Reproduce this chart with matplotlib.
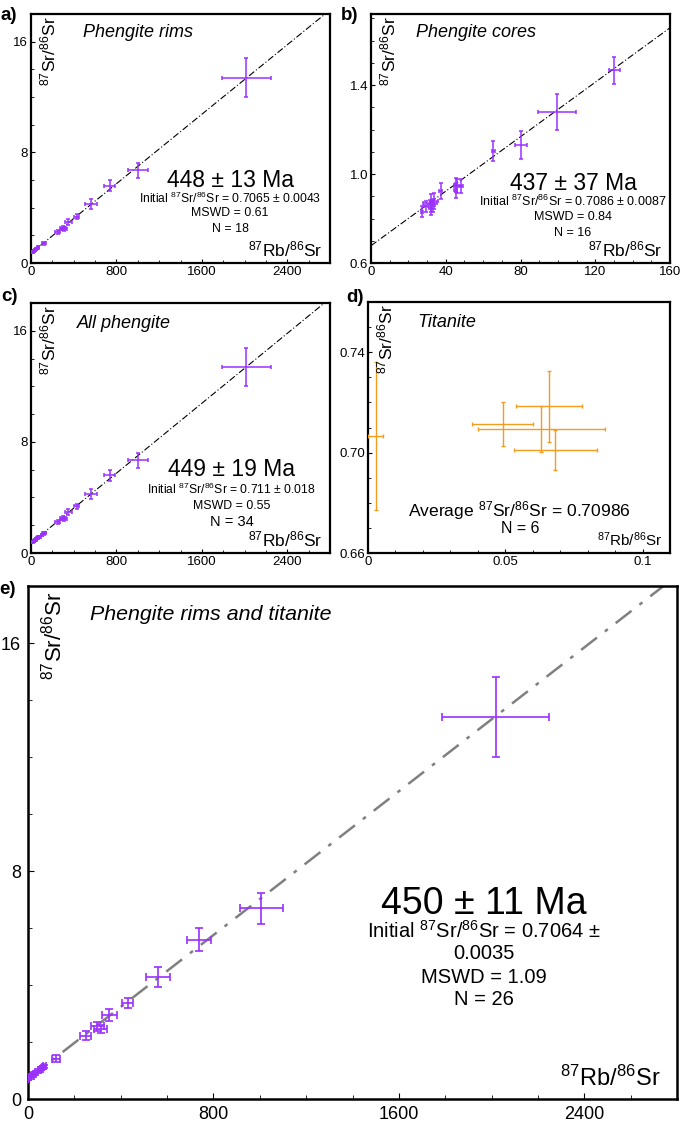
import numpy as np
import matplotlib
matplotlib.use('Agg')
import matplotlib.pyplot as plt
from matplotlib.ticker import MultipleLocator, FixedLocator

plt.rcParams['font.family'] = ['Liberation Sans', 'DejaVu Sans']
plt.rcParams['mathtext.fontset'] = 'custom'
plt.rcParams['mathtext.rm'] = 'Liberation Sans'
plt.rcParams['mathtext.default'] = 'regular'

PURPLE = '#9b30ff'
ORANGE = '#f39c1e'

# 87Rb/86Sr, 87Sr/86Sr, x error, y error
rims_x = [2017, 1006, 738, 562, 430, 351, 313, 298, 249, 121,
          8, 18, 28, 38, 48, 58, 65, 70]
rims_y = [13.39, 6.69, 5.59, 4.27, 3.36, 2.95, 2.45, 2.55, 2.22, 1.41,
          0.76, 0.82, 0.88, 0.95, 1.01, 1.07, 1.11, 1.15]
rims_xerr = [229, 93, 51, 52, 23, 33, 28, 28, 23, 19,
             6, 6, 6, 6, 6, 6, 6, 6]
rims_yerr = [1.40, 0.54, 0.40, 0.35, 0.17, 0.22, 0.15, 0.15, 0.15, 0.12,
             0.05, 0.05, 0.05, 0.05, 0.05, 0.05, 0.05, 0.05]

cores_x = [27.1, 31.4, 32.0, 32.0, 33.9, 33.0, 37.3, 45.3, 45.3, 46.2,
           48.0, 65.3, 80.3, 99.4, 130.2, 29.5]
cores_y = [0.831, 0.871, 0.870, 0.846, 0.879, 0.860, 0.924, 0.927, 0.951, 0.947,
           0.947, 1.102, 1.130, 1.278, 1.467, 0.855]
cores_xerr = [0.5, 3.7, 0.6, 0.8, 2.0, 1.0, 0.8, 0.8, 0.8, 2.0,
              1.0, 0.8, 3.1, 10.3, 2.9, 1.0]
cores_yerr = [0.026, 0.012, 0.040, 0.030, 0.035, 0.030, 0.035, 0.035, 0.030, 0.030,
              0.030, 0.045, 0.062, 0.081, 0.060, 0.025]

tit_x = [0.0028, 0.0491, 0.0631, 0.0660, 0.0682]
tit_y = [0.7066, 0.7114, 0.7094, 0.7185, 0.7011]
tit_xerr = [0.0028, 0.0111, 0.0231, 0.0120, 0.0151]
tit_yerr = [0.0295, 0.0086, 0.0093, 0.0142, 0.0081]

b_yticks = [0.6, 1.0, 1.4]
d_yticks = [0.66, 0.70, 0.74]
d_xticks = [0, 0.05, 0.1]

# isochron ages (Ma) and initial ratios
lam = 1.3972e-11
ages = {'a': 448, 'b': 437, 'c': 449, 'e': 450}
inits = {'a': 0.7065, 'b': 0.678, 'c': 0.711, 'e': 0.7064}

W, H = 685, 1126
fig = plt.figure(figsize=(W / 100, H / 100), dpi=100)


def add_ax(l, r, t, b):
    return fig.add_axes([l / W, 1 - b / H, (r - l) / W, (b - t) / H])


def style(ax, fs, lw=1.6):
    for s in ax.spines.values():
        s.set_linewidth(lw)
    ax.tick_params(which='both', direction='in', labelsize=fs, pad=2)
    ax.tick_params(which='major', length=3, width=0.8)
    ax.tick_params(which='minor', length=2.5, width=0.6)
    ax.xaxis.set_ticks_position('bottom')
    ax.yaxis.set_ticks_position('left')


def labels(ax, fs, xfs=None):
    ax.text(0.025, 0.99, '$^{87}$Sr/$^{86}$Sr', rotation=90, ha='left', va='top',
            transform=ax.transAxes, fontsize=fs)
    ax.text(0.975, 0.015, '$^{87}$Rb/$^{86}$Sr', ha='right', va='bottom',
            transform=ax.transAxes, fontsize=xfs or fs)


def isochron(ax, key, xmax, color='k', lw=0.8, dashes=(6, 2, 1, 2)):
    slope = np.exp(lam * ages[key] * 1e6) - 1
    xs = np.array([0, xmax])
    ax.plot(xs, inits[key] + slope * xs, color=color, lw=lw, dashes=dashes, zorder=1)


def points(ax, x, y, xe, ye, color, cap=1.5, lw=1.1):
    ax.errorbar(x, y, xerr=xe, yerr=ye, fmt='none', ecolor=color, elinewidth=lw,
                capsize=cap, capthick=lw, zorder=3)


def stats(ax, lines, x, ys, sizes):
    for txt, y, s in zip(lines, ys, sizes):
        ax.text(x, y, txt, ha='center', va='center', transform=ax.transAxes, fontsize=s)


def title(ax, txt, x, y, fs=13):
    ax.text(x, y, txt, style='italic', fontsize=fs, transform=ax.transAxes,
            ha='left', va='center')


def big_rb_axes(ax):
    ax.set_xlim(0, 2800)
    ax.set_ylim(0, 18)
    ax.xaxis.set_major_locator(MultipleLocator(800))
    ax.xaxis.set_minor_locator(MultipleLocator(200))
    ax.yaxis.set_major_locator(MultipleLocator(8))
    ax.yaxis.set_minor_locator(MultipleLocator(2))


def letter(txt, x, y):
    fig.text(x / W, 1 - y / H, txt, fontsize=13.5, fontweight='bold',
             ha='center', va='center')


# a) phengite rims
ax = add_ax(31, 330, 14, 263)
style(ax, 9.5)
big_rb_axes(ax)
isochron(ax, 'a', 2800)
points(ax, rims_x, rims_y, rims_xerr, rims_yerr, PURPLE)
labels(ax, 12.5)
title(ax, 'Phengite rims', 0.174, 0.924)
stats(ax, ['448 ± 13 Ma', 'Initial $^{87}$Sr/$^{86}$Sr = 0.7065 ± 0.0043',
           'MSWD = 0.61', 'N = 18'],
      0.666, [0.333, 0.26, 0.20, 0.136], [16.5, 8.7, 8.9, 8.9])
letter('a)', 9, 16)

# b) phengite cores
ax = add_ax(371, 670, 14, 263)
style(ax, 9.5)
ax.set_xlim(0, 160)
ax.set_ylim(0.6, 1.72)
ax.xaxis.set_major_locator(MultipleLocator(40))
ax.xaxis.set_minor_locator(MultipleLocator(10))
ax.yaxis.set_major_locator(FixedLocator(b_yticks))
ax.yaxis.set_minor_locator(MultipleLocator(0.1))
ax.yaxis.set_major_formatter(lambda v, p: f'{v:.1f}')
isochron(ax, 'b', 160)
points(ax, cores_x, cores_y, cores_xerr, cores_yerr, PURPLE)
labels(ax, 12.5)
title(ax, 'Phengite cores', 0.15, 0.924)
stats(ax, ['437 ± 37 Ma', 'Initial $^{87}$Sr/$^{86}$Sr = 0.7086 ± 0.0087',
           'MSWD = 0.84', 'N = 16'],
      0.676, [0.32, 0.246, 0.186, 0.12], [16.5, 9, 9, 9])
letter('b)', 350, 16)

# c) all phengite
ax = add_ax(31, 330, 303, 553)
style(ax, 9.5)
big_rb_axes(ax)
isochron(ax, 'c', 2800)
points(ax, rims_x + cores_x, rims_y + cores_y, rims_xerr + cores_xerr,
       rims_yerr + cores_yerr, PURPLE)
labels(ax, 12.5)
title(ax, 'All phengite', 0.155, 0.92)
stats(ax, ['449 ± 19 Ma', 'Initial $^{87}$Sr/$^{86}$Sr = 0.711 ± 0.018',
           'MSWD = 0.55', 'N = 34'],
      0.671, [0.332, 0.255, 0.188, 0.125], [16.5, 8.7, 8.9, 10.5])
letter('c)', 9, 296)

# d) titanite
ax = add_ax(368, 670, 302, 553)
style(ax, 9.5)
ax.set_xlim(0, 0.11)
ax.set_ylim(0.66, 0.76)
ax.xaxis.set_major_locator(FixedLocator(d_xticks))
ax.xaxis.set_minor_locator(MultipleLocator(0.01))
ax.yaxis.set_major_locator(FixedLocator(d_yticks))
ax.yaxis.set_minor_locator(MultipleLocator(0.01))
ax.xaxis.set_major_formatter(lambda v, p: '0' if v == 0 else f'{v:g}')
ax.yaxis.set_major_formatter(lambda v, p: f'{v:.2f}')
points(ax, tit_x, tit_y, tit_xerr, tit_yerr, ORANGE, lw=1.0)
labels(ax, 12.5, 11)
title(ax, 'Titanite', 0.163, 0.92)
stats(ax, ['Average $^{87}$Sr/$^{86}$Sr = 0.70986', 'N = 6'],
      0.503, [0.171, 0.098], [12.6, 11.5])
letter('d)', 355, 298)

# e) phengite rims and titanite
ax = add_ax(28, 677, 586, 1099)
style(ax, 13, lw=1.8)
big_rb_axes(ax)
ax.tick_params(which='major', length=4)
ax.tick_params(which='minor', length=3)
ax.tick_params(axis='x', pad=5)
ax.tick_params(axis='y', pad=5)
isochron(ax, 'e', 2800, color='#808080', lw=1.8, dashes=(8, 4, 1.5, 4))
points(ax, rims_x + tit_x, rims_y + tit_y, rims_xerr + tit_xerr,
       rims_yerr + tit_yerr, PURPLE, cap=3, lw=1.2)
ax.text(0.02, 0.99, '$^{87}$Sr/$^{86}$Sr', rotation=90, ha='left', va='top',
        transform=ax.transAxes, fontsize=16)
ax.text(0.975, 0.015, '$^{87}$Rb/$^{86}$Sr', ha='right', va='bottom',
        transform=ax.transAxes, fontsize=17)
title(ax, 'Phengite rims and titanite', 0.095, 0.945, fs=15.4)
stats(ax, ['450 ± 11 Ma', 'Initial $^{87}$Sr/$^{86}$Sr = 0.7064 ±', '0.0035',
           'MSWD = 1.09', 'N = 26'],
      0.703, [0.381, 0.327, 0.284, 0.237, 0.193], [27, 14.5, 14.5, 14.5, 14.5])
letter('e)', 8, 590)

fig.savefig('out.png', dpi=100)
